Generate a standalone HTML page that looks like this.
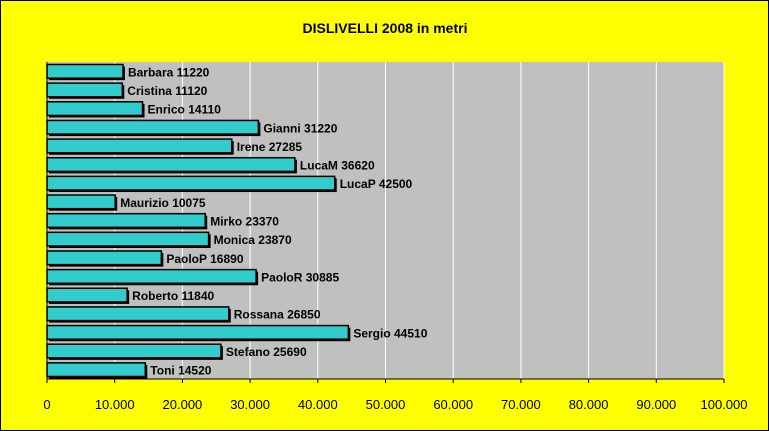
<!DOCTYPE html>
<html><head><meta charset="utf-8"><style>
body{margin:0;background:#ffff00;}
svg{display:block;font-family:"Liberation Sans",Arial,sans-serif;}
</style></head><body>
<svg id="chart" width="769" height="431">
<rect x="0.5" y="0.5" width="768" height="430" fill="#ffff00" stroke="#000"/>
<text x="385" y="33" text-anchor="middle" font-size="14" font-weight="bold">DISLIVELLI 2008 in metri</text>
<rect x="47" y="62" width="677" height="317" fill="#c0c0c0"/>
<g id="grid"></g><g id="bars"></g><g id="axis"></g>
</svg>
<script>
const names=["Barbara","Cristina","Enrico","Gianni","Irene","LucaM","LucaP","Maurizio","Mirko","Monica","PaoloP","PaoloR","Roberto","Rossana","Sergio","Stefano","Toni"];
const values=[11220,11120,14110,31220,27285,36620,42500,10075,23370,23870,16890,30885,11840,26850,44510,25690,14520];
const ticks=[0,10000,20000,30000,40000,50000,60000,70000,80000,90000,100000];
const tickLabels=["0","10.000","20.000","30.000","40.000","50.000","60.000","70.000","80.000","90.000","100.000"];
const NS="http://www.w3.org/2000/svg";
const L=47,R=724,T=62,B=379,MAX=100000;
const x=v=>L+(R-L)*v/MAX;
const rowH=(B-T)/names.length;
const y=i=>T+i*rowH;
function mk(tag,attrs,parent){const e=document.createElementNS(NS,tag);for(const k in attrs)e.setAttribute(k,attrs[k]);parent.appendChild(e);return e;}
const grid=document.getElementById('grid'),bars=document.getElementById('bars'),axis=document.getElementById('axis');
ticks.forEach((t,i)=>{
 if(i>0){const g=mk('line',{x1:x(t),x2:x(t),y1:T,y2:B,stroke:'#fff','stroke-width':1},grid);
 
 }
 const tk=mk('line',{x1:x(t),x2:x(t),y1:B,y2:B+4,stroke:'#000'},axis);
 
 
 const tl=mk('text',{x:x(t),y:409,'text-anchor':'middle','font-size':13},axis);
 tl.textContent=tickLabels[i];
 
 
});
names.forEach((n,i)=>{
 const top=y(i)+2.5,h=rowH-5;
 const sh=mk('rect',{x:L+2,y:top+2,width:x(values[i])-L,height:h,fill:'#000'},bars);
 
 
 const b=mk('rect',{x:L,y:top,width:x(values[i])-L,height:h,fill:'#33cccc',stroke:'#000','stroke-width':1.5},bars);
 
 
 const lb=mk('text',{x:x(values[i])+5,y:top+h/2+5,'font-size':12,'font-weight':'bold'},bars);
 lb.textContent=n+' '+values[i];
 
 
});
const ax=mk('line',{x1:L,x2:L,y1:T,y2:B,stroke:'#000'},axis);


const xa=mk('line',{x1:L,x2:R,y1:B,y2:B,stroke:'#000'},axis);


</script>
</body></html>
